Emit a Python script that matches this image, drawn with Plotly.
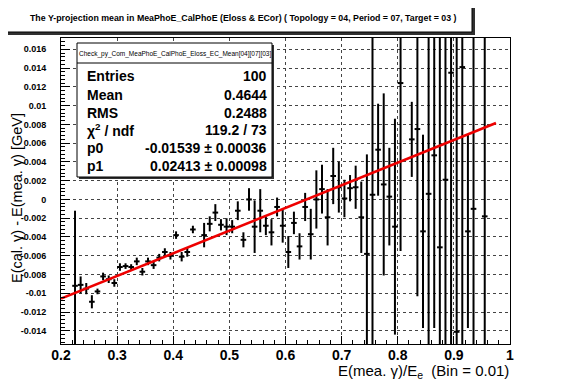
import plotly.graph_objects as go

# ---------------- data ----------------
x_centers = [0.225, 0.235, 0.245, 0.255, 0.265, 0.275, 0.285, 0.295, 0.305, 0.315,
             0.325, 0.335, 0.345, 0.355, 0.365, 0.375, 0.385, 0.395, 0.405, 0.415,
             0.425, 0.435, 0.455, 0.465, 0.475, 0.485, 0.495, 0.505, 0.515, 0.525,
             0.535, 0.545, 0.555, 0.565, 0.575, 0.585, 0.595, 0.605, 0.615, 0.625,
             0.635, 0.645, 0.655, 0.665, 0.675, 0.685, 0.695, 0.705, 0.715, 0.725,
             0.735, 0.745, 0.755, 0.765, 0.775, 0.785, 0.795, 0.805, 0.825, 0.835,
             0.845, 0.855, 0.865, 0.875, 0.885, 0.895, 0.905, 0.915, 0.925, 0.935,
             0.955]
y_means = [-0.0092, -0.0091, -0.0095, -0.0109, -0.0098, -0.0082, -0.0085, -0.0089, -0.0072, -0.0071,
           -0.0072, -0.0066, -0.0077, -0.0066, -0.0070, -0.0062, -0.0056, -0.0060, -0.0038, -0.0061,
           -0.0056, -0.0032, -0.0038, -0.0026, -0.0014, -0.0027, -0.0029, -0.0029, -0.0012, -0.0043,
           0.0000, -0.0029, -0.0012, -0.0028, -0.0035, -0.0008, -0.0028, -0.0056, -0.0025, -0.0050,
           -0.0008, -0.0037, 0.0000, 0.0011, -0.0019, 0.0025, 0.0013, 0.0001, 0.0012, 0.0013,
           -0.0019, -0.0058, 0.0005, 0.0053, 0.0016, 0.0003, -0.0029, 0.0124, 0.0064, 0.0075,
           -0.0034, 0.0006, 0.0047, -0.0051, 0.0021, 0.0135, -0.0141, 0.0141, -0.0034, -0.0010,
           -0.0018]
y_errors = [0.0080, 0.0009, 0.0006, 0.0007, 0.0003, 0.0004, 0.0004, 0.0004, 0.0004, 0.0003,
            0.0003, 0.0004, 0.0004, 0.0004, 0.0004, 0.0004, 0.0004, 0.0004, 0.0004, 0.0005,
            0.0005, 0.0004, 0.0013, 0.0008, 0.0009, 0.0006, 0.0009, 0.0007, 0.0010, 0.0008,
            0.0012, 0.0028, 0.0023, 0.0010, 0.0014, 0.0010, 0.0018, 0.0017, 0.0012, 0.0014,
            0.0015, 0.0027, 0.0031, 0.0026, 0.0030, 0.0030, 0.0027, 0.0020, 0.0014, 0.0023,
            0.0038, 0.0106, 0.0200, 0.0049, 0.0097, 0.0052, 0.0115, 0.0179, 0.0040, 0.0178,
            0.0103, 0.0250, 0.0184, 0.0250, 0.0250, 0.0300, 0.0320, 0.0300, 0.0103, 0.0250,
            0.0250]
bin_half_width = 0.005

fit_p0 = -0.01539
fit_p1 = 0.02413
fit_range = [0.2, 0.975]

x_tick_vals = [0.2, 0.3, 0.4, 0.5, 0.6, 0.7, 0.8, 0.9, 1.0]
x_tick_text = ["0.2", "0.3", "0.4", "0.5", "0.6", "0.7", "0.8", "0.9", "1"]
y_tick_vals = [-0.014, -0.012, -0.010, -0.008, -0.006, -0.004, -0.002, 0.0,
               0.002, 0.004, 0.006, 0.008, 0.010, 0.012, 0.014, 0.016]
y_tick_text = ["-0.014", "-0.012", "-0.01", "-0.008", "-0.006", "-0.004", "-0.002", "0",
               "0.002", "0.004", "0.006", "0.008", "0.01", "0.012", "0.014", "0.016"]

stats_name = "Check_py_Com_MeaPhoE_CalPhoE_Eloss_EC_Mean[04][07][03]"
stats_labels = ["Entries", "Mean", "RMS", "χ<sup>2</sup> / ndf", "p0", "p1"]
stats_values = ["100", "0.4644", "0.2488", "119.2 / 73",
                "-0.01539 ± 0.00036", "0.02413 ± 0.00098"]

title_text = ("The Y-projection mean in MeaPhoE_CalPhoE (Eloss & ECor) "
              "( Topology = 04, Period = 07, Target = 03 )")
x_title = "E(mea. γ)/E<sub>e</sub>  (Bin = 0.01)"
y_title = "E(cal. γ) - E(mea. γ) [GeV]"

# ---------------- layout geometry (page pixels) ----------------
OFF = 8                      # default body margin of the html page
W, H = 567 - OFF, 384 - OFF  # figure size so the figure fills the window
L, R, T, B = 61, 510, 38, 344  # plot frame in page pixels


def px(xp):
    return (xp - L) / (R - L)


def py(yp):
    return (B - yp) / (B - T)


FONT = "Liberation Sans"

fig = go.Figure()

fig.add_trace(go.Scatter(
    x=x_centers, y=y_means, mode="markers",
    marker=dict(size=1, color="black"),
    error_x=dict(type="constant", value=bin_half_width, width=0, thickness=2, color="black"),
    error_y=dict(type="data", array=y_errors, width=0, thickness=2, color="black"),
    showlegend=False, hoverinfo="skip",
))

fit_y = [fit_p0 + fit_p1 * v for v in fit_range]
fig.add_trace(go.Scatter(
    x=fit_range, y=fit_y, mode="lines",
    line=dict(color="#ee0000", width=2.6),
    showlegend=False, hoverinfo="skip",
))

shapes = []
annotations = []

# title box with shadow
shapes.append(dict(type="rect", xref="paper", yref="paper",
                   x0=px(8), x1=px(475), y0=py(35), y1=py(6),
                   fillcolor="#303030", line=dict(width=0), layer="above"))
shapes.append(dict(type="rect", xref="paper", yref="paper",
                   x0=px(5), x1=px(472), y0=py(32), y1=py(3),
                   fillcolor="white", line=dict(color="black", width=1), layer="above"))
annotations.append(dict(xref="paper", yref="paper", x=px(243), y=py(17.5),
                        text=title_text, showarrow=False, xanchor="center", yanchor="middle",
                        font=dict(family=FONT, size=8.8, color="black", weight="bold")))

# stats box with shadow
shapes.append(dict(type="rect", xref="paper", yref="paper",
                   x0=px(79), x1=px(274), y0=py(179), y1=py(45),
                   fillcolor="#303030", line=dict(width=0), layer="above"))
shapes.append(dict(type="rect", xref="paper", yref="paper",
                   x0=px(77), x1=px(272), y0=py(177), y1=py(43),
                   fillcolor="white", line=dict(color="black", width=1), layer="above"))
shapes.append(dict(type="line", xref="paper", yref="paper",
                   x0=px(77), x1=px(272), y0=py(63), y1=py(63),
                   line=dict(color="black", width=1), layer="above"))
annotations.append(dict(xref="paper", yref="paper", x=px(174.5), y=py(53.5),
                        text=stats_name, showarrow=False, xanchor="center", yanchor="middle",
                        font=dict(family=FONT, size=6.5, color="black")))
row_y = [76, 94.5, 113, 130, 148, 166]
for lab, val, ry in zip(stats_labels, stats_values, row_y):
    annotations.append(dict(xref="paper", yref="paper", x=px(85), y=py(ry),
                            text=lab, showarrow=False, xanchor="left", yanchor="middle",
                            font=dict(family=FONT, size=14, color="black", weight="bold")))
    annotations.append(dict(xref="paper", yref="paper", x=px(269), y=py(ry),
                            text=val, showarrow=False, xanchor="right", yanchor="middle",
                            font=dict(family=FONT, size=14, color="black", weight="bold")))

# axis titles
annotations.append(dict(xref="paper", yref="paper", x=px(511), y=py(372),
                        text=x_title, showarrow=False, xanchor="right", yanchor="middle",
                        font=dict(family=FONT, size=15, color="black")))
annotations.append(dict(xref="paper", yref="paper", x=px(17), y=py(198),
                        text=y_title, showarrow=False, xanchor="center", yanchor="middle",
                        textangle=-90,
                        font=dict(family=FONT, size=14.5, color="black")))

fig.update_layout(
    width=W, height=H,
    margin=dict(l=L - OFF, r=W + OFF - R, t=T - OFF, b=H + OFF - B, pad=0),
    paper_bgcolor="white", plot_bgcolor="white",
    shapes=shapes, annotations=annotations,
    font=dict(family=FONT, color="black"),
)

fig.update_xaxes(
    range=[0.2, 1.0], tickvals=x_tick_vals, ticktext=x_tick_text,
    ticks="inside", ticklen=8, tickcolor="black", tickwidth=1,
    minor=dict(dtick=0.02, tick0=0.2, ticks="inside", ticklen=4, tickcolor="black", showgrid=False),
    showgrid=True, gridcolor="#444444", griddash="dot", gridwidth=1,
    showline=True, linecolor="black", linewidth=1, mirror=True,
    zeroline=False, ticklabelstandoff=-2,
    tickfont=dict(family=FONT, size=14, color="black", weight="bold"),
)
fig.update_yaxes(
    range=[-0.0154, 0.0172], tickvals=y_tick_vals, ticktext=y_tick_text,
    ticks="inside", ticklen=9, tickcolor="black", tickwidth=1,
    minor=dict(dtick=0.0004, tick0=0.0, ticks="inside", ticklen=4, tickcolor="black", showgrid=False),
    showgrid=True, gridcolor="#444444", griddash="dot", gridwidth=1,
    showline=True, linecolor="black", linewidth=1, mirror=True,
    zeroline=False, ticklabelstandoff=12,
    tickfont=dict(family=FONT, size=9, color="black", weight="bold"),
)

fig.write_html("out.html")
